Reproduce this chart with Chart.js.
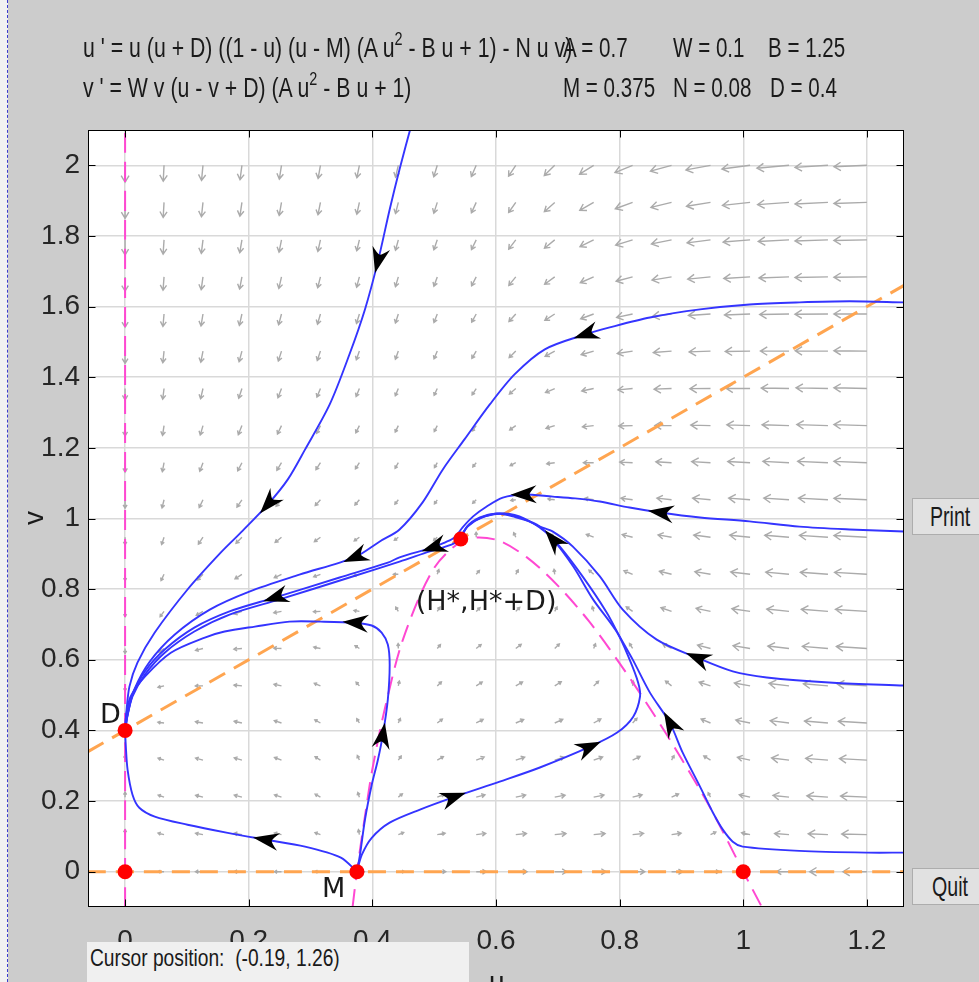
<!DOCTYPE html>
<html>
<head>
<meta charset="utf-8">
<title>pplane</title>
<script src="https://cdn.jsdelivr.net/npm/chart.js@4.4.1/dist/chart.umd.min.js"></script>
<style>
  html, body { margin: 0; padding: 0; }
  body { width: 979px; height: 982px; overflow: hidden; position: relative; background: #cccccc; font-family: "Liberation Sans", Arial, sans-serif; color: #1a1a1a; }
  #edge { position: absolute; left: 0; top: 0; width: 7px; height: 982px; background: #f2f2f2; border-right: 1px dashed #3b3bd0; }
  #plot { position: absolute; left: 0; top: 0; }
  .t { position: absolute; white-space: nowrap; font-size: 28px; line-height: 28px; transform-origin: 0 0; transform: scaleX(0.735); }
  .t sup { font-size: 19px; vertical-align: 0; position: relative; top: -12px; }
  .btn { position: absolute; left: 912px; width: 70px; height: 37px; background: #e1e1e1; border: 1px solid #adadad; box-sizing: border-box; }
  #cursor { position: absolute; left: 87px; top: 942px; width: 382px; height: 45px; background: #f0f0f0; }
</style>
</head>
<body>
<div id="edge"></div>
<canvas id="plot" width="979" height="982"></canvas>

<div class="t" style="left:83px;top:34px;transform:scaleX(0.76)">u ' = u (u + D) ((1 - u) (u - M) (A u<sup>2</sup> - B u + 1) - N u v)</div>
<div class="t" style="left:83px;top:74px;transform:scaleX(0.76)">v ' = W v (u - v + D) (A u<sup>2</sup> - B u + 1)</div>
<div class="t" style="left:563px;top:34px">A = 0.7</div>
<div class="t" style="left:673px;top:34px">W = 0.1</div>
<div class="t" style="left:768px;top:34px">B = 1.25</div>
<div class="t" style="left:563px;top:74px">M = 0.375</div>
<div class="t" style="left:673px;top:74px">N = 0.08</div>
<div class="t" style="left:770px;top:74px">D = 0.4</div>

<div class="btn" style="top:498px"></div>
<div class="t" style="left:930px;top:503px;transform:scaleX(0.7)">Print</div>
<div class="btn" style="top:868px"></div>
<div class="t" style="left:932px;top:873px;transform:scaleX(0.7)">Quit</div>

<div id="cursor"></div>
<div class="t" style="left:90px;top:946px;font-size:24px;line-height:24px;transform:scaleX(0.8)">Cursor position:&nbsp; (-0.19, 1.26)</div>
<div class="t" style="left:489px;top:968px;transform:none">u</div>
<div class="t" style="left:24px;top:504px;width:20px;text-align:center;transform-origin:50% 50%;transform:rotate(-90deg)">v</div>

<script>
const ctx = document.getElementById('plot').getContext('2d');

// parameters from the header
const A = 0.7, W = 0.1, B = 1.25, M = 0.375, N = 0.08, D = 0.4;

const uTicks = [0, 0.2, 0.4, 0.6, 0.8, 1, 1.2];
const vTicks = [0, 0.2, 0.4, 0.6, 0.8, 1, 1.2, 1.4, 1.6, 1.8, 2];

// direction field grid
const fieldU = [0, 0.063, 0.126, 0.189, 0.253, 0.316, 0.379, 0.442, 0.505, 0.568,
  0.632, 0.695, 0.758, 0.821, 0.884, 0.947, 1.011, 1.074, 1.137, 1.2];
const fieldV = [0, 0.105, 0.211, 0.316, 0.421, 0.526, 0.632, 0.737, 0.842, 0.947,
  1.053, 1.158, 1.263, 1.368, 1.474, 1.579, 1.684, 1.789, 1.895, 2];

// equilibria
const eqU = [0, 0, 0.375, 1, 0.543];
const eqV = [0, 0.4, 0, 0, 0.942];

// nullclines
const nullU0 = [[0, -0.1], [0, 2.1]];
const nullCurve = [[0.368, -0.1], [0.375, 0], [0.39, 0.18], [0.4, 0.29], [0.42, 0.46], [0.45, 0.66],
  [0.5, 0.86], [0.55, 0.94], [0.6, 0.94], [0.65, 0.89], [0.7, 0.81], [0.75, 0.71], [0.8, 0.59],
  [0.85, 0.46], [0.9, 0.32], [0.95, 0.17], [1, 0], [1.03, -0.1]];
const nullV0 = [[-0.06, 0], [1.26, 0]];
const nullDiag = [[-0.06, 0.34], [1.26, 1.66]];

// orbits, points ordered along the flow
const orbitA = [[0.464, 2.12], [0.444, 1.989], [0.428, 1.875], [0.409, 1.728], [0.388, 1.592], [0.363, 1.465],
  [0.331, 1.323], [0.291, 1.195], [0.263, 1.11], [0.231, 1.04], [0.19, 0.965], [0.155, 0.904],
  [0.101, 0.799], [0.048, 0.677], [0.02, 0.592], [0.007, 0.524], [0.002, 0.45], [0, 0.4]];
const orbitB = [[1.26, 1.612], [1.172, 1.615], [1.091, 1.612], [1.01, 1.606], [0.93, 1.592], [0.849, 1.569],
  [0.784, 1.541], [0.744, 1.521], [0.679, 1.479], [0.63, 1.408], [0.59, 1.323], [0.549, 1.224],
  [0.514, 1.139], [0.481, 1.045], [0.444, 0.969], [0.412, 0.935], [0.371, 0.89], [0.282, 0.841],
  [0.201, 0.793], [0.137, 0.742], [0.08, 0.671], [0.04, 0.595], [0.015, 0.516], [0.004, 0.445], [0, 0.4]];
const orbitC = [[1.26, 0.963], [1.172, 0.969], [1.091, 0.977], [1.01, 0.992], [0.93, 1.003], [0.865, 1.017],
  [0.816, 1.031], [0.768, 1.048], [0.728, 1.057], [0.692, 1.062], [0.643, 1.068], [0.611, 1.059],
  [0.585, 1.034], [0.563, 1.006], [0.546, 0.975], [0.533, 0.946], [0.517, 0.932], [0.498, 0.918],
  [0.444, 0.89], [0.425, 0.875], [0.347, 0.833], [0.242, 0.776], [0.169, 0.737], [0.112, 0.691],
  [0.064, 0.629], [0.032, 0.567], [0.012, 0.501], [0.004, 0.445], [0, 0.4]];
const orbitG = [[0.375, 0], [0.383, 0.048], [0.399, 0.096], [0.428, 0.139], [0.477, 0.176], [0.533, 0.212],
  [0.606, 0.255], [0.671, 0.295], [0.752, 0.354], [0.796, 0.394], [0.822, 0.439], [0.833, 0.496],
  [0.83, 0.535], [0.816, 0.601], [0.796, 0.677], [0.757, 0.771], [0.725, 0.864], [0.692, 0.941],
  [0.666, 0.983], [0.627, 1.006], [0.601, 1.014], [0.574, 1.003], [0.553, 0.977], [0.543, 0.941]];
const orbitS = [[0.543, 0.941], [0.528, 0.926], [0.493, 0.907], [0.444, 0.878], [0.363, 0.833], [0.25, 0.771],
  [0.169, 0.728], [0.112, 0.68], [0.064, 0.62], [0.032, 0.558], [0.012, 0.496], [0.004, 0.442], [0, 0.4]];
const orbitH = [[1.26, 0.054], [1.2, 0.054], [1.091, 0.059], [0.999, 0.071], [0.983, 0.085], [0.967, 0.119],
  [0.951, 0.167], [0.93, 0.241], [0.902, 0.337], [0.881, 0.422], [0.849, 0.507], [0.821, 0.601],
  [0.8, 0.666], [0.779, 0.734], [0.74, 0.836], [0.703, 0.921], [0.679, 0.963], [0.646, 1.0],
  [0.614, 1.014], [0.582, 1.006], [0.557, 0.983], [0.545, 0.955]];
const orbitI = [[1.26, 0.527], [1.145, 0.535], [1.038, 0.55], [0.983, 0.567], [0.925, 0.606], [0.86, 0.657],
  [0.805, 0.742], [0.768, 0.836], [0.724, 0.921], [0.692, 0.963], [0.671, 0.977], [0.638, 1.003],
  [0.606, 1.014], [0.577, 1.003], [0.554, 0.977], [0.543, 0.949]];
const orbitF = [[0.375, 0], [0.38, 0.048], [0.388, 0.147], [0.399, 0.246], [0.409, 0.317], [0.417, 0.388],
  [0.425, 0.487], [0.428, 0.586], [0.425, 0.643], [0.415, 0.677], [0.399, 0.697], [0.371, 0.705],
  [0.316, 0.708], [0.266, 0.708], [0.21, 0.694], [0.161, 0.68], [0.129, 0.663], [0.074, 0.62],
  [0.032, 0.552], [0.009, 0.496], [0.002, 0.445], [0, 0.4]];
const orbitE = [[0.375, 0], [0.349, 0.04], [0.291, 0.071], [0.226, 0.091], [0.166, 0.11], [0.101, 0.133],
  [0.048, 0.156], [0.023, 0.181], [0.012, 0.218], [0.004, 0.289], [0.001, 0.36], [0, 0.4]];

const orbits = { a: orbitA, b: orbitB, c: orbitC, g: orbitG, s: orbitS, h: orbitH, i: orbitI, f: orbitF, e: orbitE };

// [orbit, point index] where a flow arrow sits
const flowArrows = [['a', 3], ['a', 9], ['b', 7], ['b', 16], ['c', 5], ['c', 10], ['c', 17], ['c', 21],
  ['g', 5], ['g', 8], ['g', 17], ['h', 9], ['i', 4], ['f', 5], ['f', 11], ['e', 3]];

const pointLabels = [
  { text: 'D', eq: 1, dx: -25, dy: -7 },
  { text: 'M', eq: 2, dx: -35, dy: 25 },
  { text: '(H*,H*+D)', eq: 4, dx: -45, dy: 71 }
];

function rhs(u, v) {
  const q = A * u * u - B * u + 1;
  return [u * (u + D) * ((1 - u) * (u - M) * q - N * u * v), W * v * (u - v + D) * q];
}

const toXY = arr => arr.map(p => ({ x: p[0], y: p[1] }));

function orbitSet(pts) {
  return { data: toXY(pts), showLine: true, borderColor: '#3434ff', borderWidth: 1.9,
    pointRadius: 0, tension: 0.3, order: 2 };
}
function nullSet(pts, color, width, dash) {
  return { data: toXY(pts), showLine: true, borderColor: color, borderWidth: width,
    borderDash: dash, pointRadius: 0, tension: 0.3, order: 3 };
}

const fieldPlugin = {
  id: 'field',
  beforeDatasetsDraw(chart) {
    const { ctx, chartArea: ca, scales: { x, y } } = chart;
    const kx = x.getPixelForValue(1) - x.getPixelForValue(0);
    const ky = y.getPixelForValue(0) - y.getPixelForValue(1);
    ctx.save();
    ctx.beginPath();
    ctx.rect(ca.left, ca.top, ca.width, ca.height);
    ctx.clip();
    ctx.strokeStyle = '#ababab';
    ctx.lineWidth = 1.4;
    for (const u of fieldU) {
      for (const v of fieldV) {
        const [du, dv] = rhs(u, v);
        const dx = du * kx, dy = -dv * ky;
        const m = Math.hypot(2.5 * dx, dy);
        if (m < 1e-6) continue;
        const len = Math.max(5, Math.min(33, 2 * Math.pow(m, 0.45)));
        const ang = Math.atan2(dy, dx);
        const x0 = x.getPixelForValue(u), y0 = y.getPixelForValue(v);
        const x1 = x0 + len * Math.cos(ang), y1 = y0 + len * Math.sin(ang);
        const h = Math.max(3, Math.min(8, len * 0.45));
        ctx.beginPath();
        ctx.moveTo(x0, y0);
        ctx.lineTo(x1, y1);
        ctx.moveTo(x1 - h * Math.cos(ang - 0.55), y1 - h * Math.sin(ang - 0.55));
        ctx.lineTo(x1, y1);
        ctx.lineTo(x1 - h * Math.cos(ang + 0.55), y1 - h * Math.sin(ang + 0.55));
        ctx.stroke();
      }
    }
    ctx.restore();
  },
  afterDatasetsDraw(chart) {
    const { ctx, scales: { x, y } } = chart;
    const px = p => [x.getPixelForValue(p[0]), y.getPixelForValue(p[1])];
    ctx.save();
    ctx.fillStyle = '#000';
    for (const [name, i] of flowArrows) {
      const pts = orbits[name];
      const [cx, cy] = px(pts[i]);
      const [ax, ay] = px(pts[i - 1]);
      const [bx, by] = px(pts[i + 1]);
      ctx.save();
      ctx.translate(cx, cy);
      ctx.rotate(Math.atan2(by - ay, bx - ax));
      ctx.beginPath();
      ctx.moveTo(12, 0);
      ctx.lineTo(-14, -9);
      ctx.quadraticCurveTo(-7, -2, -7, 0);
      ctx.quadraticCurveTo(-7, 2, -14, 9);
      ctx.closePath();
      ctx.fill();
      ctx.restore();
    }
    ctx.fillStyle = '#1a1a1a';
    ctx.font = '27px "DejaVu Sans"';
    ctx.textBaseline = 'alphabetic';
    for (const l of pointLabels) {
      const [cx, cy] = px([eqU[l.eq], eqV[l.eq]]);
      ctx.fillText(l.text, cx + l.dx, cy + l.dy);
    }
    ctx.restore();
  },
  afterDraw(chart) {
    const { ctx, chartArea: ca, scales: { x, y } } = chart;
    ctx.save();
    ctx.strokeStyle = '#000';
    ctx.lineWidth = 1;
    const l = Math.round(ca.left) + 0.5, r = Math.round(ca.right) - 0.5;
    const t = Math.round(ca.top) + 0.5, b = Math.round(ca.bottom) - 0.5;
    ctx.strokeRect(l, t, r - l, b - t);
    ctx.beginPath();
    for (const u of uTicks) {
      const xp = Math.round(x.getPixelForValue(u)) + 0.5;
      ctx.moveTo(xp, b); ctx.lineTo(xp, b - 7);
      ctx.moveTo(xp, t); ctx.lineTo(xp, t + 7);
    }
    for (const v of vTicks) {
      const yp = Math.round(y.getPixelForValue(v)) + 0.5;
      ctx.moveTo(l, yp); ctx.lineTo(l + 7, yp);
      ctx.moveTo(r, yp); ctx.lineTo(r - 7, yp);
    }
    ctx.stroke();
    ctx.restore();
  }
};

const tickFont = { family: '"Liberation Sans Narrow", "Arial Narrow", "Liberation Sans", sans-serif', size: 28 };
const fmt = v => String(Math.round(v * 100) / 100);

new Chart(ctx, {
  type: 'scatter',
  data: {
    datasets: [
      { data: eqU.map((u, k) => ({ x: u, y: eqV[k] })), pointRadius: 7.5, backgroundColor: '#ff0000',
        borderWidth: 0, order: 0 },
      orbitSet(orbitA), orbitSet(orbitB), orbitSet(orbitC), orbitSet(orbitG), orbitSet(orbitS),
      orbitSet(orbitH), orbitSet(orbitI), orbitSet(orbitF), orbitSet(orbitE),
      nullSet(nullU0, '#ff48d2', 2, [20, 9]),
      nullSet(nullCurve, '#ff48d2', 2, [18, 9]),
      nullSet(nullV0, '#ffa550', 3, [18, 10]),
      nullSet(nullDiag, '#ffa550', 3, [18, 10])
    ]
  },
  options: {
    responsive: false,
    animation: false,
    events: [],
    layout: { padding: { left: 0, top: 130, right: 75, bottom: 0 } },
    plugins: { legend: { display: false }, tooltip: { enabled: false } },
    scales: {
      x: {
        type: 'linear', min: -0.06, max: 1.26,
        afterBuildTicks: s => { s.ticks = uTicks.map(v => ({ value: v })); },
        afterFit: s => { s.height = 75; },
        ticks: { font: tickFont, color: '#262626', padding: 17, maxRotation: 0, callback: fmt },
        grid: { color: '#d9d9d9', lineWidth: 1.5, drawTicks: false },
        border: { display: false }
      },
      y: {
        type: 'linear', min: -0.1, max: 2.1,
        afterBuildTicks: s => { s.ticks = vTicks.map(v => ({ value: v })); },
        afterFit: s => { s.width = 88; },
        ticks: { font: tickFont, color: '#262626', padding: 8, callback: fmt },
        grid: { color: '#d9d9d9', lineWidth: 1.5, drawTicks: false },
        border: { display: false }
      }
    }
  },
  plugins: [fieldPlugin, {
    id: 'bg',
    beforeDraw(chart) {
      const { ctx, chartArea: ca } = chart;
      ctx.save();
      ctx.fillStyle = '#fff';
      ctx.fillRect(ca.left, ca.top, ca.width, ca.height);
      ctx.restore();
    }
  }]
});
</script>
</body>
</html>
